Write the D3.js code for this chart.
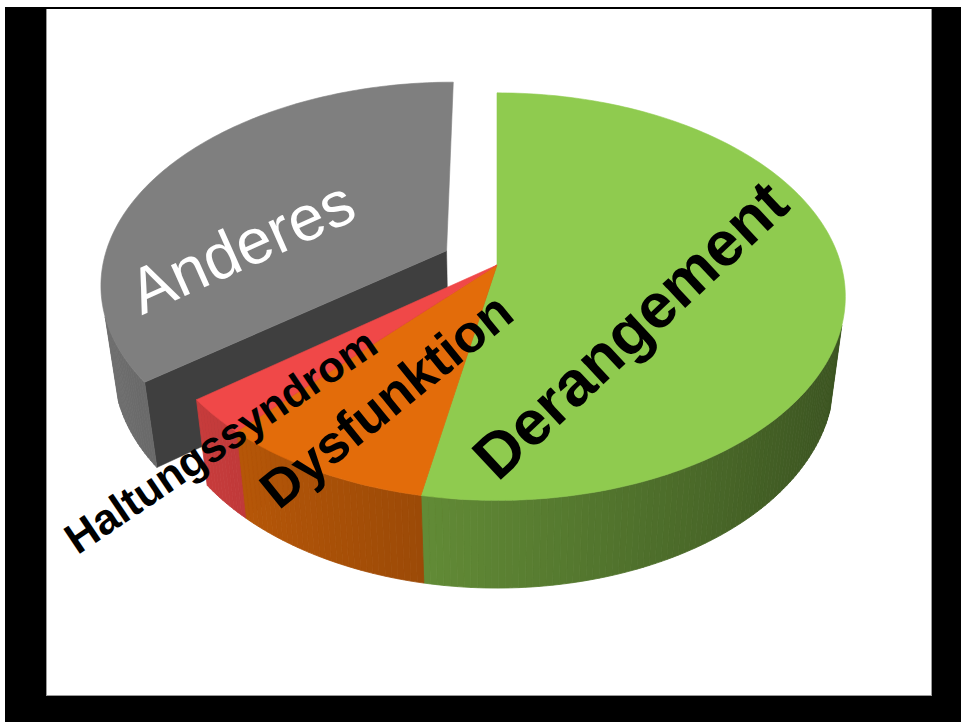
<!DOCTYPE html>
<html>
<head>
<meta charset="utf-8">
<script src="https://cdn.jsdelivr.net/npm/d3@7"></script>
<style>
  body { margin: 0; background: #fff; }
  svg { display: block; }
  text { font-family: "Liberation Sans", Arial, sans-serif; }
</style>
</head>
<body>
<svg width="961" height="722"></svg>
<script>
const width = 961;
const height = 722;

// Daten
const categories = ["Derangement", "Dysfunktion", "Haltungssyndrom", "Anderes"];
const values = [53, 8.7, 2.8, 35.5];
const sliceColors = ["#8fcb4f", "#e36c0a", "#f04848", "#7f7f7f"];
const explode = [0, 0, 0, 0.165];

// Kamera / 3D-Ansicht (Einheitsradius = 1)
const view = {
    cx: 497,
    cy: 265,
    f: 1810,
    dist: 5.26,
    tilt: (35.3 * Math.PI) / 180,
    depth: 0.302,
};
const sinT = Math.sin(view.tilt);
const cosT = Math.cos(view.tilt);
const camera = [0, view.dist * sinT, view.dist * cosT];

// Beschriftungen: Lage auf der Tortenebene (Winkel in Grad, Radius relativ)
const labelStyle = [
    { angle: 130, r: 0.48, rotate: -43, size: 63, weight: "bold", fill: "#000" },
    { angle: 205.4, r: 0.68, rotate: -39, size: 53, weight: "bold", fill: "#000" },
    { angle: 222.3, r: 1.05, rotate: -34, size: 43, weight: "bold", fill: "#000" },
    { angle: 272, r: 0.605, rotate: -24, size: 64, weight: "normal", fill: "#fff" },
];

const svg = d3.select("svg");

// Rahmen
svg.append("rect").attr("x", 5).attr("y", 7).attr("width", width - 5).attr("height", height - 7).attr("fill", "#000");
svg.append("rect").attr("x", 46).attr("y", 9).attr("width", 886).attr("height", 687).attr("fill", "#9a9a9a");
svg.append("rect").attr("x", 47).attr("y", 9).attr("width", 884).attr("height", 686).attr("fill", "#fff");

const project = ([x, y, z]) => {
    const d = view.dist - (y * sinT + z * cosT);
    return [view.cx + (view.f * x) / d, view.cy - (view.f * (y * cosT - z * sinT)) / d];
};

const line = d3.line().curve(d3.curveLinearClosed);

const arcs = d3.pie().sort(null).value((d) => d)(values);

// Helligkeit nach Normalenrichtung (Licht von links)
const shade = (color, nx) => {
    const k = Math.min(1, 0.64 - 0.24 * nx);
    const c = d3.rgb(color);
    return d3.rgb(c.r * k, c.g * k, c.b * k).formatHex();
};

// sichtbar nur, wenn die Flaeche deutlich zur Kamera zeigt
const facing = (p, n) => {
    const v = [camera[0] - p[0], camera[1] - p[1], camera[2] - p[2]];
    const len = Math.hypot(v[0], v[1], v[2]);
    return (v[0] * n[0] + v[1] * n[1] + v[2] * n[2]) / len > 0.05;
};

const slices = arcs.map((a, i) => {
    const mid = (a.startAngle + a.endAngle) / 2;
    const off = [explode[i] * Math.sin(mid), 0, -explode[i] * Math.cos(mid)];
    const pt = (t, r, y) => [off[0] + r * Math.sin(t), y, off[2] - r * Math.cos(t)];
    const n = Math.max(2, Math.ceil(((a.endAngle - a.startAngle) * 180) / Math.PI));
    const steps = d3.range(n + 1).map((k) => a.startAngle + ((a.endAngle - a.startAngle) * k) / n);
    return { i, a, off, pt, steps };
});

const drawGroup = (group, list) => {
    const h = -view.depth;
    // Schnittflaechen
    list.forEach((s) => {
        const faces = [
            { t: s.a.startAngle, n: [-Math.cos(s.a.startAngle), 0, -Math.sin(s.a.startAngle)] },
            { t: s.a.endAngle, n: [Math.cos(s.a.endAngle), 0, Math.sin(s.a.endAngle)] },
        ];
        faces.forEach((fc) => {
            const quad = [s.pt(0, 0, 0), s.pt(fc.t, 1, 0), s.pt(fc.t, 1, h), s.pt(0, 0, h)];
            if (!facing(s.pt(fc.t, 0.5, h / 2), fc.n)) return;
            const col = shade(sliceColors[s.i], fc.n[0]);
            group.append("path")
                .attr("d", line(quad.map(project)))
                .attr("fill", col)
                .attr("stroke", col)
                .attr("stroke-width", 0.5);
        });
    });
    // Mantelflaechen
    list.forEach((s) => {
        for (let k = 0; k < s.steps.length - 1; k++) {
            const t0 = s.steps[k];
            const t1 = s.steps[k + 1];
            const tm = (t0 + t1) / 2;
            const nrm = [Math.sin(tm), 0, -Math.cos(tm)];
            if (!facing(s.pt(tm, 1, h / 2), nrm)) continue;
            const quad = [s.pt(t0, 1, 0), s.pt(t1, 1, 0), s.pt(t1, 1, h), s.pt(t0, 1, h)];
            const col = shade(sliceColors[s.i], nrm[0]);
            group.append("path")
                .attr("d", line(quad.map(project)))
                .attr("fill", col)
                .attr("stroke", col)
                .attr("stroke-width", 0.8);
        }
    });
    // Deckflaechen
    list.forEach((s) => {
        const poly = [s.pt(0, 0, 0)].concat(s.steps.map((t) => s.pt(t, 1, 0)));
        group.append("path")
            .attr("d", line(poly.map(project)))
            .attr("fill", sliceColors[s.i])
            .attr("stroke", sliceColors[s.i])
            .attr("stroke-width", 0.6);
    });
};

const back = slices.filter((s) => explode[s.i] > 0);
const main = slices.filter((s) => explode[s.i] === 0);
drawGroup(svg.append("g").attr("class", "exploded"), back);
drawGroup(svg.append("g").attr("class", "main"), main);

// Beschriftungen
const labels = svg.append("g").attr("class", "labels");
slices.forEach((s) => {
    const st = labelStyle[s.i];
    const t = (st.angle * Math.PI) / 180;
    const [x, y] = project(s.pt(t, st.r, 0));
    labels.append("text")
        .attr("transform", `translate(${x},${y}) rotate(${st.rotate})`)
        .attr("text-anchor", "middle")
        .attr("dominant-baseline", "central")
        .attr("font-size", st.size)
        .attr("font-weight", st.weight)
        .attr("fill", st.fill)
        .text(categories[s.i]);
});
</script>
</body>
</html>
